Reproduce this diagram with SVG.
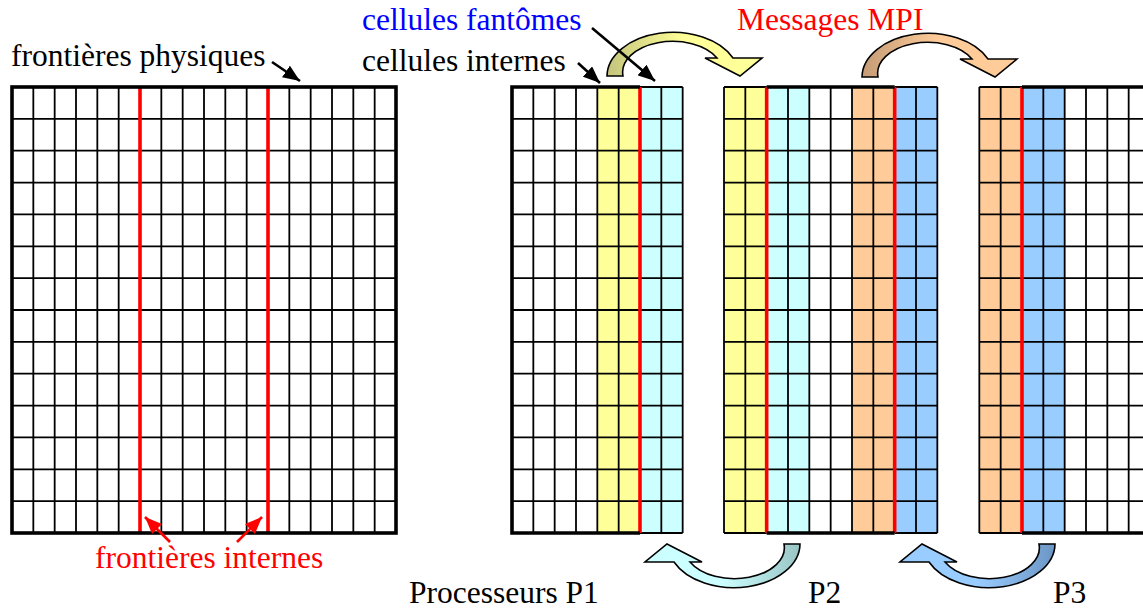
<svg xmlns="http://www.w3.org/2000/svg" width="1143" height="610" viewBox="0 0 1143 610">
<style>
.t{font-family:"Liberation Serif","Times New Roman",serif;font-size:31.5px}
.g{fill:none;stroke:#000;stroke-width:1.8}
.b{fill:none;stroke:#000;stroke-width:3.6}
.r{fill:none;stroke:#f00;stroke-width:3.6}
.ptr{fill:none;stroke:#000;stroke-width:2.6}
.ptrR{fill:none;stroke:#f00;stroke-width:2.6}
.blk{stroke:#000;stroke-width:1.6}
</style>
<defs>
<marker id="ah" markerUnits="userSpaceOnUse" markerWidth="18" markerHeight="14" refX="17" refY="7" orient="auto"><path d="M0,0 L17,7 L0,14 Z" fill="#000"/></marker>
<marker id="ahR" markerUnits="userSpaceOnUse" markerWidth="18" markerHeight="14" refX="17" refY="7" orient="auto"><path d="M0,0 L17,7 L0,14 Z" fill="#f00"/></marker>
<linearGradient id="gy" x1="0" y1="0" x2="1" y2="0"><stop offset="0" stop-color="#c4c47c"/><stop offset="0.5" stop-color="#ffff99"/><stop offset="1" stop-color="#ffff99"/></linearGradient>
<linearGradient id="go" x1="0" y1="0" x2="1" y2="0"><stop offset="0" stop-color="#c49c76"/><stop offset="0.5" stop-color="#ffcc99"/><stop offset="1" stop-color="#ffcc99"/></linearGradient>
<linearGradient id="gc" x1="0" y1="0" x2="1" y2="0"><stop offset="0" stop-color="#99c4c4"/><stop offset="0.5" stop-color="#ccffff"/><stop offset="1" stop-color="#ccffff"/></linearGradient>
<linearGradient id="gb" x1="0" y1="0" x2="1" y2="0"><stop offset="0" stop-color="#6c96c4"/><stop offset="0.5" stop-color="#99ccff"/><stop offset="1" stop-color="#99ccff"/></linearGradient>
<path id="bent" d="M607,76 A66,44 0 0 1 733,58 L762,58 L740,76 L705,58 L717,58 A50,31 0 0 0 623,76 Z"/>
</defs>

<g id="global-grid">
<path class="g" d="M33.33 87V533M54.67 87V533M76 87V533M97.33 87V533M118.67 87V533M161.33 87V533M182.67 87V533M204 87V533M225.33 87V533M246.67 87V533M289.33 87V533M310.67 87V533M332 87V533M353.33 87V533M374.67 87V533"/>
<path class="g" d="M12 118.86H396M12 150.71H396M12 182.57H396M12 214.43H396M12 246.29H396M12 278.14H396M12 310H396M12 341.86H396M12 373.71H396M12 405.57H396M12 437.43H396M12 469.29H396M12 501.14H396"/>
<path class="r" d="M140 87V533M268 87V533"/>
<rect class="b" x="12" y="87" width="384" height="446"/>
</g>

<g id="P1-grid">
<rect x="597.33" y="87" width="42.67" height="446" fill="#ffff99"/>
<rect x="640" y="87" width="42.67" height="446" fill="#ccffff"/>
<path class="g" d="M533.33 87V533M554.67 87V533M576 87V533M597.33 87V533M618.67 87V533M661.33 87V533M682.67 87V533M640 87H682.67M640 533H682.67"/>
<path class="g" d="M512 118.86H682.67M512 150.71H682.67M512 182.57H682.67M512 214.43H682.67M512 246.29H682.67M512 278.14H682.67M512 310H682.67M512 341.86H682.67M512 373.71H682.67M512 405.57H682.67M512 437.43H682.67M512 469.29H682.67M512 501.14H682.67"/>
<path class="r" d="M640 87V533"/>
<path class="b" d="M640 87H512V533H640"/>
</g>

<g id="P2-grid">
<rect x="724" y="87" width="42.67" height="446" fill="#ffff99"/>
<rect x="766.67" y="87" width="42.67" height="446" fill="#ccffff"/>
<rect x="852" y="87" width="42.67" height="446" fill="#ffcc99"/>
<rect x="894.67" y="87" width="42.67" height="446" fill="#99ccff"/>
<path class="g" d="M724 87V533M745.33 87V533M788 87V533M809.33 87V533M830.67 87V533M852 87V533M873.33 87V533M916 87V533M937.33 87V533M724 87H766.67M724 533H766.67M894.67 87H937.33M894.67 533H937.33"/>
<path class="g" d="M724 118.86H937.33M724 150.71H937.33M724 182.57H937.33M724 214.43H937.33M724 246.29H937.33M724 278.14H937.33M724 310H937.33M724 341.86H937.33M724 373.71H937.33M724 405.57H937.33M724 437.43H937.33M724 469.29H937.33M724 501.14H937.33"/>
<path class="r" d="M766.67 87V533M894.67 87V533"/>
<path class="b" d="M766.67 87H894.67M766.67 533H894.67"/>
</g>

<g id="P3-grid">
<rect x="979.33" y="87" width="42.67" height="446" fill="#ffcc99"/>
<rect x="1022" y="87" width="42.67" height="446" fill="#99ccff"/>
<path class="g" d="M979.33 87V533M1000.67 87V533M1043.33 87V533M1064.67 87V533M1086 87V533M1107.33 87V533M1128.67 87V533M979.33 87H1022M979.33 533H1022"/>
<path class="g" d="M979.33 118.86H1150M979.33 150.71H1150M979.33 182.57H1150M979.33 214.43H1150M979.33 246.29H1150M979.33 278.14H1150M979.33 310H1150M979.33 341.86H1150M979.33 373.71H1150M979.33 405.57H1150M979.33 437.43H1150M979.33 469.29H1150M979.33 501.14H1150"/>
<path class="r" d="M1022 87V533"/>
<path class="b" d="M1022 87H1150M1022 533H1150"/>
</g>

<g id="connectors">
<use href="#bent" fill="url(#gy)" class="blk"/>
<use href="#bent" fill="url(#go)" class="blk" transform="translate(255,1)"/>
<use href="#bent" fill="url(#gc)" class="blk" transform="rotate(180 703.5 310)"/>
<use href="#bent" fill="url(#gb)" class="blk" transform="rotate(180 831 310)"/>
<path class="ptr" d="M272 62L300 81" marker-end="url(#ah)"/>
<path class="ptr" d="M592 28L655 81" marker-end="url(#ah)"/>
<path class="ptr" d="M578 63L600 83" marker-end="url(#ah)"/>
<path class="ptrR" d="M170 542L145 517" marker-end="url(#ahR)"/>
<path class="ptrR" d="M237 542L262 517" marker-end="url(#ahR)"/>
</g>

<g id="labels">
<text class="t" font-family="Liberation Serif, serif" x="11" y="66">frontières physiques</text>
<text class="t" font-family="Liberation Serif, serif" x="362" y="29.5" fill="#00f">cellules fantômes</text>
<text class="t" font-family="Liberation Serif, serif" x="362" y="70.5">cellules internes</text>
<text class="t" font-family="Liberation Serif, serif" x="737" y="29.5" fill="#f00">Messages MPI</text>
<text class="t" font-family="Liberation Serif, serif" x="95" y="568" fill="#f00">frontières internes</text>
<text class="t" font-family="Liberation Serif, serif" x="409" y="603">Processeurs P1</text>
<text class="t" font-family="Liberation Serif, serif" x="808" y="603">P2</text>
<text class="t" font-family="Liberation Serif, serif" x="1053" y="603">P3</text>
</g>
</svg>
